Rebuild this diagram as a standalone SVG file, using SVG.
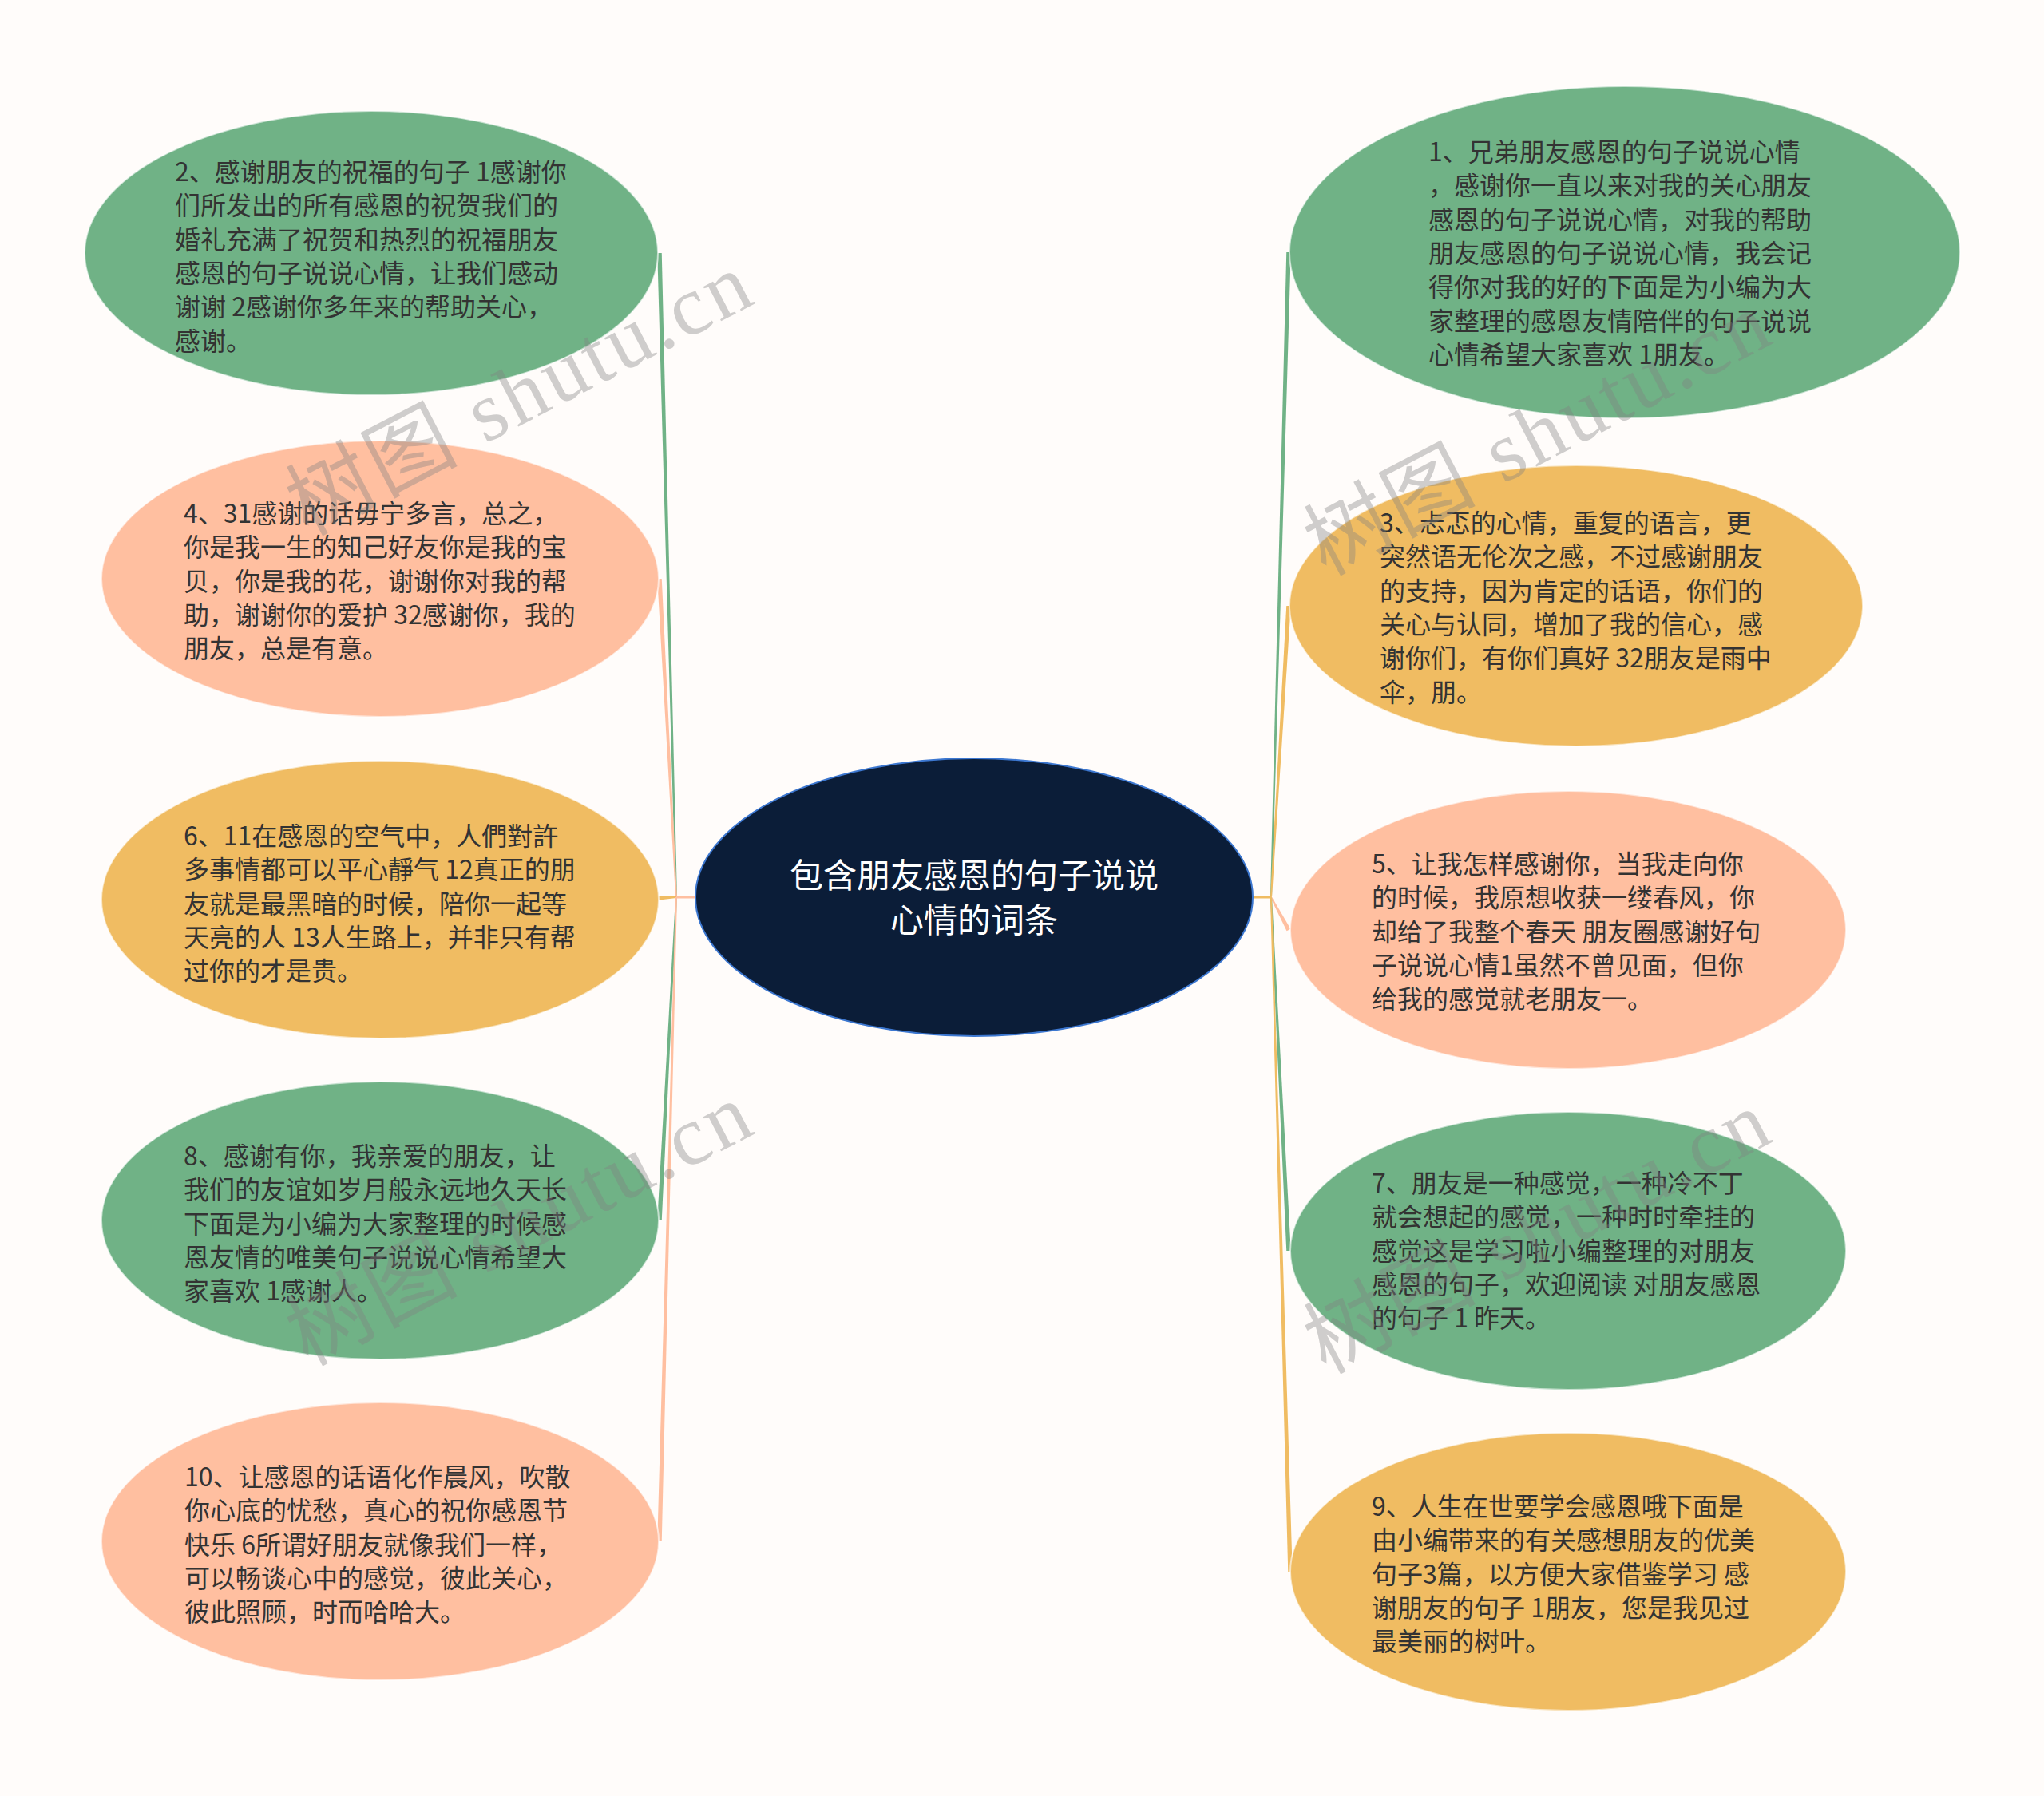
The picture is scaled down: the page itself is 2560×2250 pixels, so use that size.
<svg xmlns="http://www.w3.org/2000/svg" width="2560" height="2250" viewBox="0 0 2560 2250">
<style>
.bg{fill:#FFFCFA}
.green{fill:#70B286}
.peach{fill:#FFBFA0}
.gold{fill:#F0BC62}
.node{stroke:#FFFFFF;stroke-opacity:0.6;stroke-width:2}
.t{font-family:"Noto Sans CJK SC","Microsoft YaHei",sans-serif;font-size:32px;fill:#333333}
.ct{font-family:"Noto Sans CJK SC","Microsoft YaHei",sans-serif;font-size:42px;fill:#FFFFFF;text-anchor:middle}
.cg{fill:#70B286}
.cp{fill:#FFBFA0}
.co{fill:#F0BC62}
.wm{font-family:"Liberation Serif","Noto Sans CJK SC",serif;font-size:106px;fill:#808080;fill-opacity:0.38;letter-spacing:4px}
</style>
<rect class="bg" x="0" y="0" width="2560" height="2250"/>
<g id="connectors">
  <line x1="871" y1="1124" x2="846" y2="1124" stroke="#FFBFA0" stroke-width="3"/>
  <line x1="1568" y1="1124" x2="1593" y2="1124" stroke="#F0BC62" stroke-width="3"/>
  <polygon class="cg" points="846,1124 848,1124 828.75,317 823.25,317"/>
  <polygon class="cp" points="846,1124 848,1124 828.75,725 823.25,725"/>
  <polygon class="co" points="847,1123 847,1125 824,1127.75 824,1122.25"/>
  <polygon class="cg" points="846,1124 848,1124 828.75,1529 823.25,1529"/>
  <polygon class="cp" points="846,1124 848,1124 828.75,1931 823.25,1931"/>
  <polygon class="cg" points="1591,1124 1593,1124 1616.75,316 1611.25,316"/>
  <polygon class="co" points="1591,1124 1593,1124 1616.75,759 1611.25,759"/>
  <polygon class="cp" points="1592.88,1123.53 1616.43,1163.7 1611.57,1166.3 1591.12,1124.47"/>
  <polygon class="cg" points="1591,1124 1593,1124 1616.75,1567 1611.25,1567"/>
  <polygon class="co" points="1591,1124 1593,1124 1618.75,1969 1613.25,1969"/>
</g>
<g id="center">
  <ellipse cx="1220" cy="1124" rx="349" ry="174" fill="#0B1D38" stroke="#3C77D0" stroke-width="2"/>
  <text class="ct"><tspan x="1220" y="1112">包含朋友感恩的句子说说</tspan><tspan x="1220" y="1168">心情的词条</tspan></text>
</g>
<g id="node-l1">
  <ellipse class="node green" cx="465" cy="317" rx="359" ry="178"/>
  <text class="t"><tspan x="219" y="227">2、感谢朋友的祝福的句子 1感谢你</tspan><tspan x="219" dy="42.3">们所发出的所有感恩的祝贺我们的</tspan><tspan x="219" dy="42.3">婚礼充满了祝贺和热烈的祝福朋友</tspan><tspan x="219" dy="42.3">感恩的句子说说心情，让我们感动</tspan><tspan x="219" dy="42.3">谢谢 2感谢你多年来的帮助关心，</tspan><tspan x="219" dy="42.3">感谢。</tspan></text>
</g>
<g id="node-l2">
  <ellipse class="node peach" cx="476" cy="725" rx="349" ry="173"/>
  <text class="t"><tspan x="230" y="655">4、31感谢的话毋宁多言，总之，</tspan><tspan x="230" dy="42.3">你是我一生的知己好友你是我的宝</tspan><tspan x="230" dy="42.3">贝，你是我的花，谢谢你对我的帮</tspan><tspan x="230" dy="42.3">助，谢谢你的爱护 32感谢你，我的</tspan><tspan x="230" dy="42.3">朋友，总是有意。</tspan></text>
</g>
<g id="node-l3">
  <ellipse class="node gold" cx="476" cy="1127" rx="349" ry="174"/>
  <text class="t"><tspan x="230" y="1059">6、11在感恩的空气中，人們對許</tspan><tspan x="230" dy="42.3">多事情都可以平心靜气 12真正的朋</tspan><tspan x="230" dy="42.3">友就是最黑暗的时候，陪你一起等</tspan><tspan x="230" dy="42.3">天亮的人 13人生路上，并非只有帮</tspan><tspan x="230" dy="42.3">过你的才是贵。</tspan></text>
</g>
<g id="node-l4">
  <ellipse class="node green" cx="476" cy="1529" rx="349" ry="174"/>
  <text class="t"><tspan x="230" y="1460">8、感谢有你，我亲爱的朋友，让</tspan><tspan x="230" dy="42.3">我们的友谊如岁月般永远地久天长</tspan><tspan x="230" dy="42.3">下面是为小编为大家整理的时候感</tspan><tspan x="230" dy="42.3">恩友情的唯美句子说说心情希望大</tspan><tspan x="230" dy="42.3">家喜欢 1感谢人。</tspan></text>
</g>
<g id="node-l5">
  <ellipse class="node peach" cx="476" cy="1931" rx="349" ry="174"/>
  <text class="t"><tspan x="231" y="1862">10、让感恩的话语化作晨风，吹散</tspan><tspan x="231" dy="42.3">你心底的忧愁，真心的祝你感恩节</tspan><tspan x="231" dy="42.3">快乐 6所谓好朋友就像我们一样，</tspan><tspan x="231" dy="42.3">可以畅谈心中的感觉，彼此关心，</tspan><tspan x="231" dy="42.3">彼此照顾，时而哈哈大。</tspan></text>
</g>
<g id="node-r1">
  <ellipse class="node green" cx="2035" cy="316" rx="420" ry="208"/>
  <text class="t"><tspan x="1789" y="202">1、兄弟朋友感恩的句子说说心情</tspan><tspan x="1789" dy="42.3">，感谢你一直以来对我的关心朋友</tspan><tspan x="1789" dy="42.3">感恩的句子说说心情，对我的帮助</tspan><tspan x="1789" dy="42.3">朋友感恩的句子说说心情，我会记</tspan><tspan x="1789" dy="42.3">得你对我的好的下面是为小编为大</tspan><tspan x="1789" dy="42.3">家整理的感恩友情陪伴的句子说说</tspan><tspan x="1789" dy="42.3">心情希望大家喜欢 1朋友。</tspan></text>
</g>
<g id="node-r2">
  <ellipse class="node gold" cx="1974" cy="759" rx="359" ry="176"/>
  <text class="t"><tspan x="1728" y="667">3、忐忑的心情，重复的语言，更</tspan><tspan x="1728" dy="42.3">突然语无伦次之感，不过感谢朋友</tspan><tspan x="1728" dy="42.3">的支持，因为肯定的话语，你们的</tspan><tspan x="1728" dy="42.3">关心与认同，增加了我的信心，感</tspan><tspan x="1728" dy="42.3">谢你们，有你们真好 32朋友是雨中</tspan><tspan x="1728" dy="42.3">伞，朋。</tspan></text>
</g>
<g id="node-r3">
  <ellipse class="node peach" cx="1964" cy="1165" rx="348" ry="174"/>
  <text class="t"><tspan x="1718" y="1094">5、让我怎样感谢你，当我走向你</tspan><tspan x="1718" dy="42.3">的时候，我原想收获一缕春风，你</tspan><tspan x="1718" dy="42.3">却给了我整个春天 朋友圈感谢好句</tspan><tspan x="1718" dy="42.3">子说说心情1虽然不曾见面，但你</tspan><tspan x="1718" dy="42.3">给我的感觉就老朋友一。</tspan></text>
</g>
<g id="node-r4">
  <ellipse class="node green" cx="1964" cy="1567" rx="348" ry="174"/>
  <text class="t"><tspan x="1718" y="1494">7、朋友是一种感觉，一种冷不丁</tspan><tspan x="1718" dy="42.3">就会想起的感觉，一种时时牵挂的</tspan><tspan x="1718" dy="42.3">感觉这是学习啦小编整理的对朋友</tspan><tspan x="1718" dy="42.3">感恩的句子，欢迎阅读 对朋友感恩</tspan><tspan x="1718" dy="42.3">的句子 1 昨天。</tspan></text>
</g>
<g id="node-r5">
  <ellipse class="node gold" cx="1964" cy="1969" rx="348" ry="174"/>
  <text class="t"><tspan x="1718" y="1899">9、人生在世要学会感恩哦下面是</tspan><tspan x="1718" dy="42.3">由小编带来的有关感想朋友的优美</tspan><tspan x="1718" dy="42.3">句子3篇，以方便大家借鉴学习 感</tspan><tspan x="1718" dy="42.3">谢朋友的句子 1朋友，您是我见过</tspan><tspan x="1718" dy="42.3">最美丽的树叶。</tspan></text>
</g>
<g id="watermarks">
  <text class="wm" transform="translate(385,672) rotate(-27.5)">树图 shutu.cn</text>
  <text class="wm" transform="translate(385,1712) rotate(-27.5)">树图 shutu.cn</text>
  <text class="wm" transform="translate(1660,722) rotate(-27.5)">树图 shutu.cn</text>
  <text class="wm" transform="translate(1660,1722) rotate(-27.5)">树图 shutu.cn</text>
</g>
</svg>
